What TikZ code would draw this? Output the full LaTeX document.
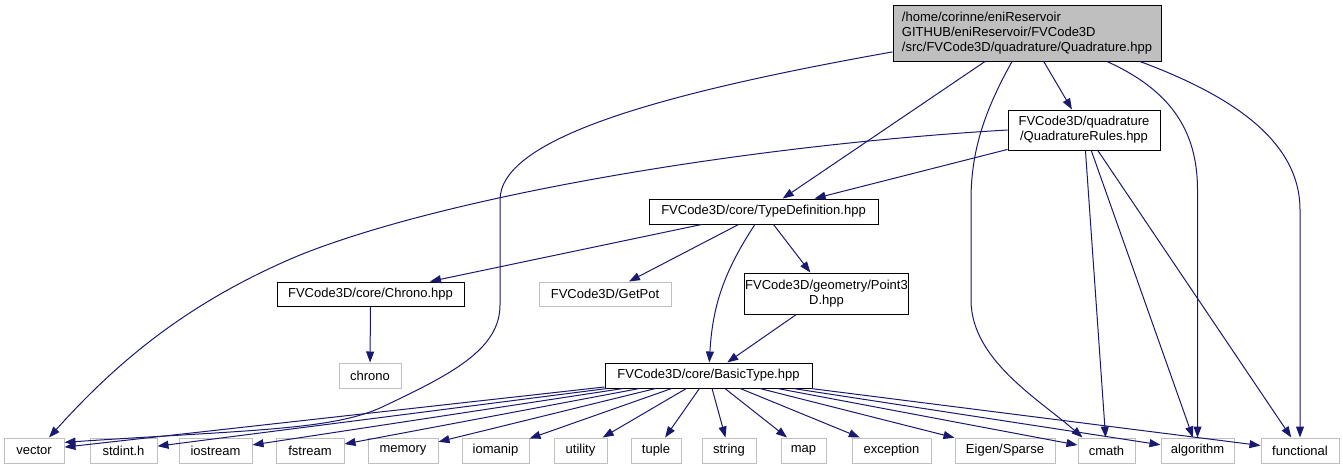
\documentclass[tikz,border=0pt]{standalone}
\usepackage{fontspec}
\setmainfont{Liberation Sans}
\usetikzlibrary{arrows.meta,positioning}
\definecolor{edgeblue}{HTML}{191970}
\definecolor{missgray}{HTML}{BFBFBF}

\begin{document}
\begin{tikzpicture}[x=1pt,y=-1pt,
  hdr/.style={draw=black, fill=white, line width=1pt, inner sep=1pt, minimum height=25pt, align=center, font=\fontsize{13}{15}\selectfont},
  syshdr/.style={hdr, draw=missgray},
  dep/.style={-{Triangle[length=11pt,width=8pt]}, edgeblue, line width=1pt}
]
\useasboundingbox (0,0) rectangle (1343,469);
% the header itself
\node[hdr, fill=missgray, align=left, minimum width=268pt, minimum height=56pt] (root) at (1027,33) {/home/corinne/eniReservoir\\GITHUB/eniReservoir/FVCode3D\\/src/FVCode3D/quadrature/Quadrature.hpp};
% project headers
\node[hdr, minimum width=152pt, minimum height=40pt] (rules) at (1084,130) {FVCode3D/quadrature\\/QuadratureRules.hpp};
\node[hdr, minimum width=229pt] (typedef) at (763.5,211.5) {FVCode3D/core/TypeDefinition.hpp};
\node[hdr, minimum width=187pt, minimum height=24pt] (chronohpp) at (370.5,294) {FVCode3D/core/Chrono.hpp};
\node[syshdr, minimum width=132pt, minimum height=24pt] (getpot) at (605,294) {FVCode3D/GetPot};
\node[hdr, minimum width=159pt, minimum height=41pt] (point) at (826.5,293.5) {FVCode3D/geometry/Point3\\D.hpp};
\node[syshdr, minimum width=62pt] (chrono) at (370,375.5) {chrono};
\node[hdr, minimum width=207pt] (basic) at (708.5,375.5) {FVCode3D/core/BasicType.hpp};
% system headers
\foreach \name/\x/\w/\txt in {vector/34/60/vector, stdint/123.5/67/stdint.h, iostream/215.5/73/iostream,
  fstream/310/68/fstream, memory/403/70/memory, iomanip/495.5/67/iomanip, utility/580.5/53/utility,
  tuple/656/50/tuple, string/729/54/string, map/803.5/45/map, exception/891.5/79/exception,
  eigen/1005/100/{Eigen/Sparse}, cmath/1106.5/57/cmath, algorithm/1197.5/73/algorithm,
  functional/1300/78/functional}
  \node[syshdr, minimum width=\w pt] (\name) at (\x,450.5) {\txt};

% includes of the header
\draw[dep] (root) -- (rules);
\draw[dep] (root) -- (typedef);
\draw[dep] (root.188) .. controls (650,95) and (500,140) .. (500,200) -- (500,305)
  .. controls (500,350) and (450,375) .. (380,408) .. controls (330,430) and (250,430) .. (vector.15);
\draw[dep] ([xshift=-15pt]root.south) .. controls (985,110) and (971,150) .. (971,200) -- (971,300)
  .. controls (971,360) and (1040,400) .. ([xshift=-24pt]cmath.north);
\draw[dep] ([xshift=80pt]root.south) .. controls (1170,90) and (1197.5,130) .. (1197.5,190) -- (algorithm.north);
\draw[dep] ([xshift=113pt]root.south) .. controls (1230,95) and (1300,140) .. (1300,210) -- (functional.north);
% QuadratureRules.hpp
\draw[dep] (rules.west) .. controls (750,145) and (450,195) .. (300,255)
  .. controls (180,305) and (110,370) .. ([xshift=15pt]vector.north);
\draw[dep] (rules) -- (typedef);
\draw[dep] (rules) -- (cmath);
\draw[dep] (rules) -- (algorithm);
\draw[dep] (rules) -- (functional);
% TypeDefinition.hpp
\draw[dep] (typedef) -- (chronohpp);
\draw[dep] (typedef) -- (getpot);
\draw[dep] (typedef) -- (point);
\draw[dep] (typedef) to[bend right=15] (basic);
\draw[dep] (point) -- (basic);
\draw[dep] (chronohpp) -- (chrono);
% BasicType.hpp
\foreach \t in {vector,stdint,iostream,fstream,memory,iomanip,utility,tuple,string,map,exception,eigen,cmath,algorithm,functional}
  \draw[dep] (basic) -- (\t);
\end{tikzpicture}
\end{document}
